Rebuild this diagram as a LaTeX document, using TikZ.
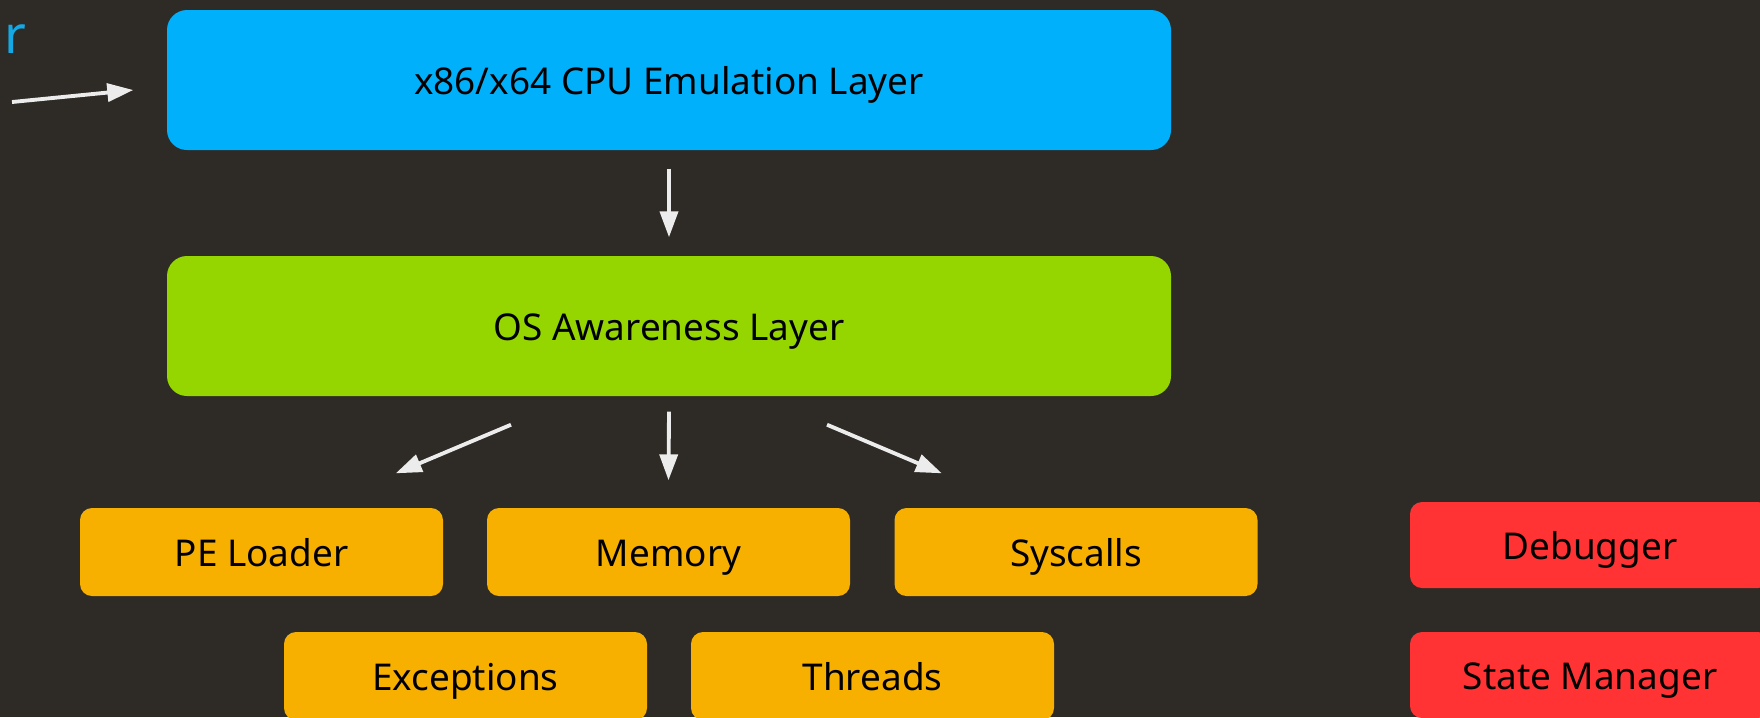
\documentclass[tikz,border=0pt]{standalone}
\usepackage{fontspec}
\setmainfont{Noto Sans}
\usetikzlibrary{calc,arrows.meta}
\definecolor{bgc}{RGB}{46,42,38}
\definecolor{cpublue}{RGB}{0,176,250}
\definecolor{osgreen}{RGB}{149,214,0}
\definecolor{compyellow}{RGB}{247,176,0}
\definecolor{toolred}{RGB}{255,51,51}
\definecolor{arrowc}{RGB}{236,236,236}
\definecolor{labelblue}{RGB}{20,168,228}
\begin{document}
\begin{tikzpicture}[x=0.1mm,y=-0.1mm,
  box/.style={rounded corners=1.2mm, inner sep=0pt, font=\fontsize{10.5}{12}\selectfont, text=black,
    text height=0.85em, text depth=0pt},
  layer/.style={box, rounded corners=2mm, minimum width=100.4mm, minimum height=14mm},
  comp/.style={box, fill=compyellow, minimum width=36.3mm, minimum height=8.8mm},
  tool/.style={box, fill=toolred, minimum width=36mm, minimum height=8.6mm},
  arr/.style={draw=arrowc, line width=1.1pt, -{Triangle[length=2.6mm,width=1.8mm]}}]
\useasboundingbox (0,0) rectangle (1760,717);
\fill[bgc] (0,0) rectangle (1760,717);

\node[anchor=base west, inner sep=0pt, text=labelblue, font=\fontsize{15}{17}\selectfont] (ext) at (4,53) {r};
\coordinate (src) at (12,102);

\node[layer, fill=cpublue] (cpu) at (669,80) {x86/x64 CPU Emulation Layer};
\node[layer, fill=osgreen] (os) at (669,326) {OS Awareness Layer};

\node[comp] (pe) at (261.5,552) {PE Loader};
\node[comp] (mem) at (668.5,552) {Memory};
\node[comp] (sys) at (1076,552) {Syscalls};
\node[comp] (exc) at (465.5,676) {Exceptions};
\node[comp] (thr) at (872.5,676) {Threads};

\node[tool] (dbg) at (1590,545) {Debugger};
\node[tool] (state) at (1590,675) {State Manager};

\draw[arr] (src) -- ($(cpu.west)+(-33,10)$);
\draw[arr] ($(cpu.south)+(0,18)$) -- ($(os.north)+(0,-18)$);
\draw[arr] ($(os.south)+(-158,28)$) -- ($(pe.north east)+(-48,-34)$);
\draw[arr] ($(os.south)+(0,15)$) -- ($(mem.north)+(0,-27)$);
\draw[arr] ($(os.south)+(158,28)$) -- ($(sys.north west)+(48,-34)$);
\end{tikzpicture}
\end{document}
